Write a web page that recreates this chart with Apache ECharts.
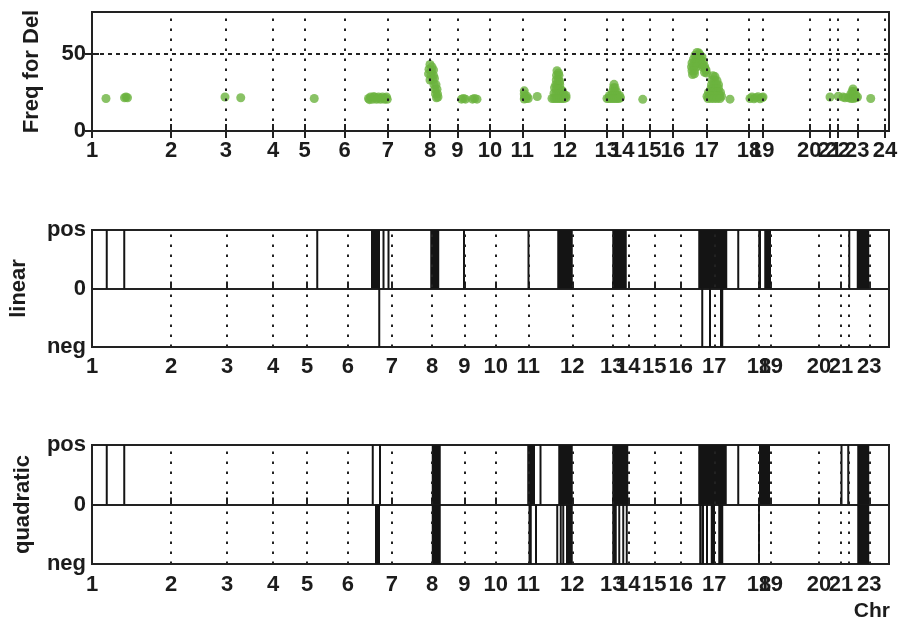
<!DOCTYPE html>
<html><head><meta charset="utf-8">
<script src="https://cdn.jsdelivr.net/npm/echarts@6/dist/echarts.min.js"></script>
<style>html,body{margin:0;padding:0;background:#fff}#c{width:901px;height:623px}</style>
</head><body><div id="c"></div>
<script>
// ---- data ----
const chrNamesTop = ['1','2','3','4','5','6','7','8','9','10','11','12','13','14','15','16','17','18','19','20','21','22','23','24'];
const chrStartTop = [0,316,535,724,850,1010,1183,1352,1461,1592,1721,1892,2059,2121,2229,2323,2459,2628,2681,2869,2952,2983,3061,3172];
const chrNamesLow = ['1','2','3','4','5','6','7','8','9','10','11','12','13','14','15','16','17','18','19','20','21','22','23'];
const chrStartLow = [0,316,540,724,860,1023,1199,1360,1489,1615,1745,1921,2081,2145,2249,2355,2489,2668,2715,2908,2996,3025,3109];
const genomeEnd = 3188;
const freqTicks = [0, 50];
const freqMax = 77;
const freqDel = [
  [56,21],[130,21.5],[136,22],[142,21.5],
  [532,22],[595,21.5],[889,21],
  [1106,21],[1114,22],[1122,20.5],[1130,22],[1138,20.5],[1146,22],[1154,20.5],[1162,22],[1170,20.5],[1178,22],[1181,20.5],[1110,20.3],[1126,22.2],[1142,21.2],[1158,21.2],[1174,21.2],
  [1352,43],[1360,41.5],[1348,40],[1358,39],[1366,39.5],[1346,37],[1356,36],[1366,36],[1352,33],[1362,33],[1370,34],[1368,30],[1376,30],[1372,27],[1380,27],[1374,24],[1382,24],[1378,21.5],[1384,22],
  [1478,20.6],[1486,21],[1494,20.6],[1522,20.6],[1530,21],[1540,20.6],
  [1729,26],[1729,24],[1730,22],[1729,20.7],[1737,21],[1745,21],[1740,22.5],[1781,22.3],
  [1860,39],[1866,37.5],[1858,36],[1868,36],[1857,33],[1866,33],[1871,32],[1855,30],[1863,30],[1871,30],[1850,28],[1858,27],[1866,27],[1874,27],[1882,26],[1848,24.5],[1856,24],[1864,24],[1872,24],[1880,24],[1888,23.5],[1896,23],[1840,21],[1848,21],[1856,21],[1864,21],[1872,21],[1880,21],[1888,21],[1896,21.5],
  [2088,30.2],[2086,28],[2092,28],[2082,25.5],[2090,25.5],[2098,25.5],[2070,23],[2078,23],[2086,23],[2094,23],[2102,23],[2110,23],[2060,21],[2068,21],[2076,21],[2084,21],[2092,21],[2100,21],[2108,21],[2114,21.5],
  [2203,20.5],
  [2420,50.8],[2428,50.4],[2412,49],[2422,49],[2432,49],[2440,48],[2406,46.5],[2416,46.5],[2426,46.5],[2436,46],[2446,45],[2400,44],[2410,44],[2420,44],[2430,43.5],[2440,43],[2450,42],[2398,41.5],[2408,41.5],[2418,41.5],[2444,41],[2452,40.5],[2400,39],[2410,39],[2456,39.5],[2402,36.5],[2410,37],[2450,38],[2458,37.5],
  [2484,35.8],[2492,35.2],[2480,33],[2490,33],[2500,32.5],[2478,30],[2488,30],[2498,30],[2506,30],[2476,27.5],[2486,27.5],[2496,27.5],[2506,27.5],[2466,25],[2476,25],[2486,25],[2496,25],[2506,25],[2514,25],[2460,22.5],[2470,22.5],[2480,22.5],[2490,22.5],[2500,22.5],[2510,22.5],[2518,22.5],[2464,21],[2476,21],[2488,21],[2500,21],[2512,21],
  [2552,20.6],
  [2632,21],[2640,22],[2648,20.8],[2656,21.5],[2664,22.2],[2672,20.8],[2680,21.5],[2684,22],
  [2952,22],[2985,22.5],
  [3044,27.2],[3040,25.5],[3048,25.5],[3034,23.5],[3044,23.5],[3054,23.5],[3026,21.5],[3036,21],[3046,21],[3056,21.5],[3062,22],[3012,21.5],[3004,22],
  [3115,21]
];
// intervals [start, end] on the lower-panel genome axis
const linearPos = [[59,59],[129,129],[901,901],[1116,1152],[1166,1166],[1186,1186],[1353,1389],[1488,1488],[1746,1746],[1861,1923],[2081,2139],[2425,2541],[2585,2585],[2665,2676],[2689,2716],[3029,3029],[3059,3109]];
const linearNeg = [[1149,1149],[2441,2441],[2472,2472],[2512,2525]];
const quadPos = [[59,59],[129,129],[1123,1123],[1152,1152],[1359,1395],[1741,1772],[1794,1794],[1865,1923],[2081,2145],[2425,2539],[2585,2585],[2668,2712],[2998,2998],[3025,3025],[3061,3109]];
const quadNeg = [[1132,1152],[1359,1395],[1746,1759],[1776,1776],[1861,1861],[1875,1875],[1885,1885],[1896,1923],[2081,2099],[2109,2109],[2125,2125],[2139,2139],[2429,2439],[2444,2444],[2460,2460],[2475,2492],[2505,2525],[2668,2668],[3061,3109]];
const signTicks = [-1, 0, 1];
const signLabels = ['neg', '0', 'pos'];

// ---- chart ----
const FONT = "'Liberation Sans', Arial, sans-serif";
const TXT = '#1c1c1c';
const labelStyle = {color: TXT, fontFamily: FONT, fontWeight: 'bold', fontSize: 22};
function nameOf(starts, names) {
  return v => { let b = 0; for (let i = 0; i < starts.length; i++) if (Math.abs(starts[i]-v) < Math.abs(starts[b]-v)) b = i; return names[b]; };
}
const dotLine = {color: '#222', width: 2, type: [2.5, 7.5]};
function vGrid(starts) {
  return {silent: true, symbol: ['none','none'], animation: false, label: {show: false},
    lineStyle: dotLine, data: starts.slice(1).map(v => ({xAxis: v}))};
}
function xAx(grid, starts, names, pos, showLabel, margin) {
  return {type: 'value', gridIndex: grid, min: 0, max: genomeEnd, position: pos,
    axisLine: {show: false}, splitLine: {show: false},
    axisTick: {show: true, inside: true, length: 7, customValues: starts, lineStyle: {color: '#222', width: 2}},
    axisLabel: Object.assign({show: showLabel, customValues: starts, formatter: nameOf(starts, names), margin: margin, showMinLabel: true, showMaxLabel: true, hideOverlap: false}, labelStyle)};
}
function signY(grid, name, gap) {
  return {type: 'value', gridIndex: grid, min: -1, max: 1, interval: 1,
    axisLine: {show: false}, axisTick: {show: false},
    splitLine: {show: true, lineStyle: {color: '#222', width: 2}},
    axisLabel: Object.assign({customValues: signTicks, formatter: v => signLabels[signTicks.indexOf(Math.round(v))], margin: 6}, labelStyle),
    name: name, nameLocation: 'middle', nameRotate: 90, nameGap: gap,
    nameTextStyle: {color: TXT, fontFamily: FONT, fontWeight: 'bold', fontSize: 22}};
}
function renderBar(params, api) {
  const x1 = api.value(0), x2 = api.value(1), s = api.value(2);
  const a = api.coord([x1, s > 0 ? 1 : 0]);
  const b = api.coord([x2, s > 0 ? 0 : -1]);
  let x = a[0], w = b[0] - a[0];
  if (w < 2) { x = (a[0] + b[0]) / 2 - 1; w = 2; }
  return {type: 'rect', shape: {x: x, y: a[1], width: w, height: b[1] - a[1]}, style: {fill: '#141414'}};
}
function barSeries(xi, yi, pos, neg) {
  return {type: 'custom', xAxisIndex: xi, yAxisIndex: yi, renderItem: renderBar,
    encode: {x: [0, 1], y: 2}, animation: false,
    data: pos.map(d => [d[0], d[1], 1]).concat(neg.map(d => [d[0], d[1], -1])),
    markLine: vGrid(chrStartLow)};
}
const border = {show: true, borderColor: '#222', borderWidth: 2, backgroundColor: 'transparent'};
const chart = echarts.init(document.getElementById('c'), null, {renderer: 'canvas'});
chart.setOption({
  animation: false,
  backgroundColor: '#fff',
  title: {text: 'Chr', right: 11, top: 601, padding: 0, textStyle: {color: TXT, fontFamily: FONT, fontWeight: 'bold', fontSize: 21}},
  grid: [
    Object.assign({left: 92, right: 12, top: 12, height: 119}, border),
    Object.assign({left: 92, right: 12, top: 230, height: 117}, border),
    Object.assign({left: 92, right: 12, top: 445, height: 119}, border)
  ],
  xAxis: [
    xAx(0, chrStartTop, chrNamesTop, 'bottom', true, 9),
    xAx(0, chrStartTop, chrNamesTop, 'top', false, 8),
    xAx(1, chrStartLow, chrNamesLow, 'bottom', true, 9),
    xAx(2, chrStartLow, chrNamesLow, 'bottom', true, 10)
  ],
  yAxis: [
    {type: 'value', gridIndex: 0, min: 0, max: freqMax, position: 'left',
      axisLine: {show: false}, splitLine: {show: false},
      axisTick: {show: true, inside: true, length: 7, customValues: freqTicks, lineStyle: {color: '#222', width: 2}},
      axisLabel: Object.assign({customValues: freqTicks, margin: 6}, labelStyle),
      name: 'Freq for Del', nameLocation: 'middle', nameRotate: 90, nameGap: 49,
      nameTextStyle: {color: TXT, fontFamily: FONT, fontWeight: 'bold', fontSize: 22}},
    {type: 'value', gridIndex: 0, min: 0, max: freqMax, position: 'right',
      axisLine: {show: false}, splitLine: {show: false}, axisLabel: {show: false},
      axisTick: {show: true, inside: true, length: 7, customValues: freqTicks, lineStyle: {color: '#222', width: 2}}},
    signY(1, 'linear', 62),
    signY(2, 'quadratic', 58)
  ],
  series: [
    {type: 'scatter', xAxisIndex: 0, yAxisIndex: 0, data: freqDel, symbolSize: 9,
      itemStyle: {color: '#6cb33f'}, animation: false,
      markLine: {silent: true, symbol: ['none','none'], animation: false, label: {show: false},
        data: chrStartTop.slice(1).map(v => ({xAxis: v, lineStyle: dotLine}))
          .concat([{yAxis: 50, lineStyle: {color: '#222', width: 2, type: [4, 4]}}])}},
    barSeries(2, 2, linearPos, linearNeg),
    barSeries(3, 3, quadPos, quadNeg)
  ]
});
</script></body></html>
